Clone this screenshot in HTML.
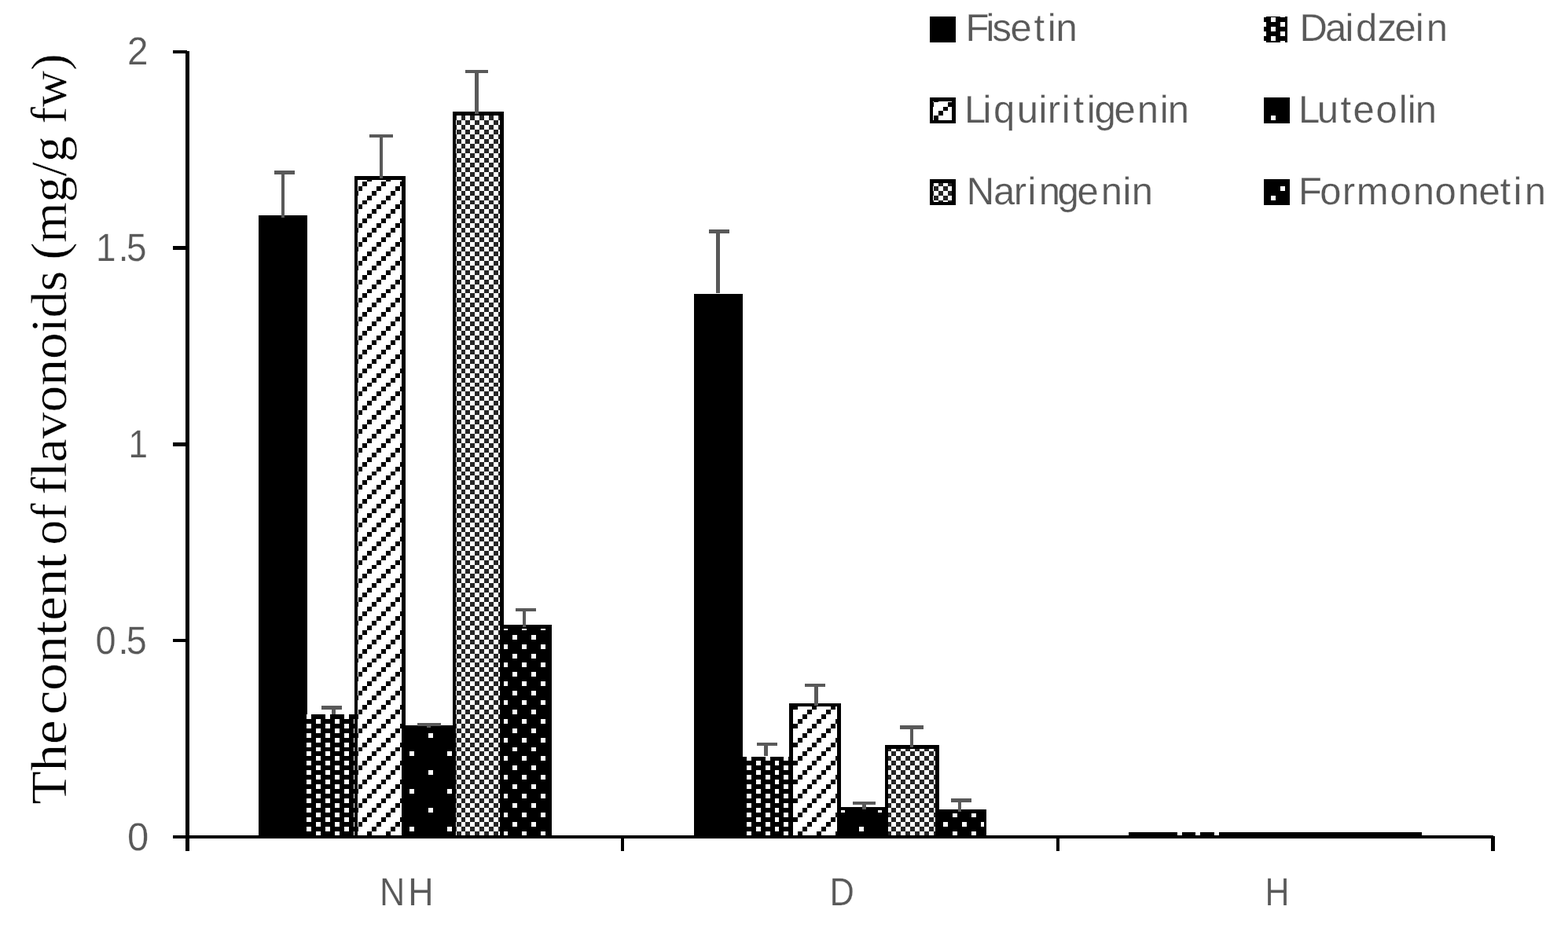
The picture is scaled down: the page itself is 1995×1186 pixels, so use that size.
<!DOCTYPE html>
<html lang="en"><head><meta charset="utf-8"><title>The content of flavonoids (mg/g fw)</title>
<style>html,body{margin:0;padding:0;background:#fff;}body{width:1995px;height:1186px;overflow:hidden;}svg{display:block;}.s{font-family:"Liberation Sans",sans-serif;font-size:49px;fill:#595959;stroke:#fff;stroke-width:0.25px;stroke-linejoin:round;}.d{font-size:49.8px;}.t{font-family:"Liberation Serif",serif;font-size:64.5px;fill:#000;stroke:#fff;stroke-width:0.4px;stroke-linejoin:round;}</style>
</head><body>
<svg width="1995" height="1186" viewBox="0 0 1995 1186" shape-rendering="crispEdges">
<rect width="1995" height="1186" fill="#fff"/>
<rect x="329" y="274" width="62" height="789" fill="#000"/>
<rect x="390" y="909" width="62" height="154" fill="#000"/>
<path fill="#fff" d="M390 909h6v6h-6zM414 909h6v6h-6zM438 909h6v6h-6zM402 915h6v6h-6zM426 915h6v6h-6zM450 915h2v6h-2zM390 921h6v6h-6zM414 921h6v6h-6zM438 921h6v6h-6zM402 927h6v6h-6zM426 927h6v6h-6zM450 927h2v6h-2zM390 933h6v6h-6zM414 933h6v6h-6zM438 933h6v6h-6zM402 939h6v6h-6zM426 939h6v6h-6zM450 939h2v6h-2zM390 945h6v6h-6zM414 945h6v6h-6zM438 945h6v6h-6zM402 951h6v5h-6zM426 951h6v5h-6zM450 951h2v5h-2zM390 956h6v6h-6zM414 956h6v6h-6zM438 956h6v6h-6zM402 962h6v6h-6zM426 962h6v6h-6zM450 962h2v6h-2zM390 968h6v6h-6zM414 968h6v6h-6zM438 968h6v6h-6zM402 974h6v6h-6zM426 974h6v6h-6zM450 974h2v6h-2zM390 980h6v6h-6zM414 980h6v6h-6zM438 980h6v6h-6zM402 986h6v6h-6zM426 986h6v6h-6zM450 986h2v6h-2zM390 992h6v6h-6zM414 992h6v6h-6zM438 992h6v6h-6zM402 998h6v6h-6zM426 998h6v6h-6zM450 998h2v6h-2zM390 1004h6v6h-6zM414 1004h6v6h-6zM438 1004h6v6h-6zM402 1010h6v6h-6zM426 1010h6v6h-6zM450 1010h2v6h-2zM390 1016h6v6h-6zM414 1016h6v6h-6zM438 1016h6v6h-6zM402 1022h6v6h-6zM426 1022h6v6h-6zM450 1022h2v6h-2zM390 1028h6v6h-6zM414 1028h6v6h-6zM438 1028h6v6h-6zM402 1034h6v6h-6zM426 1034h6v6h-6zM450 1034h2v6h-2zM390 1040h6v6h-6zM414 1040h6v6h-6zM438 1040h6v6h-6zM402 1046h6v6h-6zM426 1046h6v6h-6zM450 1046h2v6h-2zM390 1052h6v6h-6zM414 1052h6v6h-6zM438 1052h6v6h-6zM402 1058h6v5h-6zM426 1058h6v5h-6zM450 1058h2v5h-2z"/>
<rect x="516" y="923" width="64" height="140" fill="#000"/>
<path fill="#fff" d="M545 933h6v6h-6zM521 956h6v6h-6zM569 956h6v6h-6zM545 980h6v6h-6zM521 1004h6v6h-6zM569 1004h6v6h-6zM545 1028h6v6h-6zM521 1052h6v6h-6zM569 1052h6v6h-6z"/>
<rect x="641" y="795" width="61" height="268" fill="#000"/>
<path fill="#fff" d="M641 800h5v2h-5zM664 800h6v2h-6zM688 800h6v2h-6zM652 808h6v6h-6zM676 808h6v6h-6zM641 820h5v6h-5zM664 820h6v6h-6zM688 820h6v6h-6zM652 832h6v6h-6zM676 832h6v6h-6zM641 843h5v6h-5zM664 843h6v6h-6zM688 843h6v6h-6zM652 855h6v6h-6zM676 855h6v6h-6zM641 867h5v6h-5zM664 867h6v6h-6zM688 867h6v6h-6zM652 879h6v6h-6zM676 879h6v6h-6zM641 891h5v6h-5zM664 891h6v6h-6zM688 891h6v6h-6zM652 903h6v6h-6zM676 903h6v6h-6zM641 915h5v6h-5zM664 915h6v6h-6zM688 915h6v6h-6zM652 927h6v6h-6zM676 927h6v6h-6zM641 939h5v6h-5zM664 939h6v6h-6zM688 939h6v6h-6zM652 951h6v5h-6zM676 951h6v5h-6zM641 962h5v6h-5zM664 962h6v6h-6zM688 962h6v6h-6zM652 974h6v6h-6zM676 974h6v6h-6zM641 986h5v6h-5zM664 986h6v6h-6zM688 986h6v6h-6zM652 998h6v6h-6zM676 998h6v6h-6zM641 1010h5v6h-5zM664 1010h6v6h-6zM688 1010h6v6h-6zM652 1022h6v6h-6zM676 1022h6v6h-6zM641 1034h5v6h-5zM664 1034h6v6h-6zM688 1034h6v6h-6zM652 1046h6v6h-6zM676 1046h6v6h-6zM641 1058h5v5h-5zM664 1058h6v5h-6zM688 1058h6v5h-6z"/>
<rect x="451" y="224" width="65" height="839" fill="#000"/>
<rect x="455" y="229" width="56" height="834" fill="#fff"/>
<path fill="#000" d="M467 229h6v2h-6zM491 229h6v2h-6zM461 231h6v6h-6zM485 231h6v6h-6zM509 231h2v6h-2zM456 237h5v6h-5zM479 237h6v6h-6zM503 237h6v6h-6zM455 243h1v6h-1zM473 243h6v6h-6zM497 243h6v6h-6zM467 249h6v6h-6zM491 249h6v6h-6zM461 255h6v5h-6zM485 255h6v5h-6zM509 255h2v5h-2zM456 260h5v6h-5zM479 260h6v6h-6zM503 260h6v6h-6zM455 266h1v6h-1zM473 266h6v6h-6zM497 266h6v6h-6zM467 272h6v6h-6zM491 272h6v6h-6zM461 278h6v6h-6zM485 278h6v6h-6zM509 278h2v6h-2zM456 284h5v6h-5zM479 284h6v6h-6zM503 284h6v6h-6zM455 290h1v6h-1zM473 290h6v6h-6zM497 290h6v6h-6zM467 296h6v6h-6zM491 296h6v6h-6zM461 302h6v6h-6zM485 302h6v6h-6zM509 302h2v6h-2zM456 308h5v6h-5zM479 308h6v6h-6zM503 308h6v6h-6zM455 314h1v6h-1zM473 314h6v6h-6zM497 314h6v6h-6zM467 320h6v6h-6zM491 320h6v6h-6zM461 326h6v6h-6zM485 326h6v6h-6zM509 326h2v6h-2zM456 332h5v6h-5zM479 332h6v6h-6zM503 332h6v6h-6zM455 338h1v6h-1zM473 338h6v6h-6zM497 338h6v6h-6zM467 344h6v6h-6zM491 344h6v6h-6zM461 350h6v6h-6zM485 350h6v6h-6zM509 350h2v6h-2zM456 356h5v6h-5zM479 356h6v6h-6zM503 356h6v6h-6zM455 362h1v6h-1zM473 362h6v6h-6zM497 362h6v6h-6zM467 368h6v5h-6zM491 368h6v5h-6zM461 373h6v6h-6zM485 373h6v6h-6zM509 373h2v6h-2zM456 379h5v6h-5zM479 379h6v6h-6zM503 379h6v6h-6zM455 385h1v6h-1zM473 385h6v6h-6zM497 385h6v6h-6zM467 391h6v6h-6zM491 391h6v6h-6zM461 397h6v6h-6zM485 397h6v6h-6zM509 397h2v6h-2zM456 403h5v6h-5zM479 403h6v6h-6zM503 403h6v6h-6zM455 409h1v6h-1zM473 409h6v6h-6zM497 409h6v6h-6zM467 415h6v6h-6zM491 415h6v6h-6zM461 421h6v6h-6zM485 421h6v6h-6zM509 421h2v6h-2zM456 427h5v6h-5zM479 427h6v6h-6zM503 427h6v6h-6zM455 433h1v6h-1zM473 433h6v6h-6zM497 433h6v6h-6zM467 439h6v6h-6zM491 439h6v6h-6zM461 445h6v6h-6zM485 445h6v6h-6zM509 445h2v6h-2zM456 451h5v6h-5zM479 451h6v6h-6zM503 451h6v6h-6zM455 457h1v6h-1zM473 457h6v6h-6zM497 457h6v6h-6zM467 463h6v6h-6zM491 463h6v6h-6zM461 469h6v6h-6zM485 469h6v6h-6zM509 469h2v6h-2zM456 475h5v6h-5zM479 475h6v6h-6zM503 475h6v6h-6zM455 481h1v6h-1zM473 481h6v6h-6zM497 481h6v6h-6zM467 487h6v5h-6zM491 487h6v5h-6zM461 492h6v6h-6zM485 492h6v6h-6zM509 492h2v6h-2zM456 498h5v6h-5zM479 498h6v6h-6zM503 498h6v6h-6zM455 504h1v6h-1zM473 504h6v6h-6zM497 504h6v6h-6zM467 510h6v6h-6zM491 510h6v6h-6zM461 516h6v6h-6zM485 516h6v6h-6zM509 516h2v6h-2zM456 522h5v6h-5zM479 522h6v6h-6zM503 522h6v6h-6zM455 528h1v6h-1zM473 528h6v6h-6zM497 528h6v6h-6zM467 534h6v6h-6zM491 534h6v6h-6zM461 540h6v6h-6zM485 540h6v6h-6zM509 540h2v6h-2zM456 546h5v6h-5zM479 546h6v6h-6zM503 546h6v6h-6zM455 552h1v6h-1zM473 552h6v6h-6zM497 552h6v6h-6zM467 558h6v6h-6zM491 558h6v6h-6zM461 564h6v6h-6zM485 564h6v6h-6zM509 564h2v6h-2zM456 570h5v6h-5zM479 570h6v6h-6zM503 570h6v6h-6zM455 576h1v6h-1zM473 576h6v6h-6zM497 576h6v6h-6zM467 582h6v6h-6zM491 582h6v6h-6zM461 588h6v6h-6zM485 588h6v6h-6zM509 588h2v6h-2zM456 594h5v6h-5zM479 594h6v6h-6zM503 594h6v6h-6zM455 600h1v5h-1zM473 600h6v5h-6zM497 600h6v5h-6zM467 605h6v6h-6zM491 605h6v6h-6zM461 611h6v6h-6zM485 611h6v6h-6zM509 611h2v6h-2zM456 617h5v6h-5zM479 617h6v6h-6zM503 617h6v6h-6zM455 623h1v6h-1zM473 623h6v6h-6zM497 623h6v6h-6zM467 629h6v6h-6zM491 629h6v6h-6zM461 635h6v6h-6zM485 635h6v6h-6zM509 635h2v6h-2zM456 641h5v6h-5zM479 641h6v6h-6zM503 641h6v6h-6zM455 647h1v6h-1zM473 647h6v6h-6zM497 647h6v6h-6zM467 653h6v6h-6zM491 653h6v6h-6zM461 659h6v6h-6zM485 659h6v6h-6zM509 659h2v6h-2zM456 665h5v6h-5zM479 665h6v6h-6zM503 665h6v6h-6zM455 671h1v6h-1zM473 671h6v6h-6zM497 671h6v6h-6zM467 677h6v6h-6zM491 677h6v6h-6zM461 683h6v6h-6zM485 683h6v6h-6zM509 683h2v6h-2zM456 689h5v6h-5zM479 689h6v6h-6zM503 689h6v6h-6zM455 695h1v6h-1zM473 695h6v6h-6zM497 695h6v6h-6zM467 701h6v6h-6zM491 701h6v6h-6zM461 707h6v6h-6zM485 707h6v6h-6zM509 707h2v6h-2zM456 713h5v6h-5zM479 713h6v6h-6zM503 713h6v6h-6zM455 719h1v5h-1zM473 719h6v5h-6zM497 719h6v5h-6zM467 724h6v6h-6zM491 724h6v6h-6zM461 730h6v6h-6zM485 730h6v6h-6zM509 730h2v6h-2zM456 736h5v6h-5zM479 736h6v6h-6zM503 736h6v6h-6zM455 742h1v6h-1zM473 742h6v6h-6zM497 742h6v6h-6zM467 748h6v6h-6zM491 748h6v6h-6zM461 754h6v6h-6zM485 754h6v6h-6zM509 754h2v6h-2zM456 760h5v6h-5zM479 760h6v6h-6zM503 760h6v6h-6zM455 766h1v6h-1zM473 766h6v6h-6zM497 766h6v6h-6zM467 772h6v6h-6zM491 772h6v6h-6zM461 778h6v6h-6zM485 778h6v6h-6zM509 778h2v6h-2zM456 784h5v6h-5zM479 784h6v6h-6zM503 784h6v6h-6zM455 790h1v6h-1zM473 790h6v6h-6zM497 790h6v6h-6zM467 796h6v6h-6zM491 796h6v6h-6zM461 802h6v6h-6zM485 802h6v6h-6zM509 802h2v6h-2zM456 808h5v6h-5zM479 808h6v6h-6zM503 808h6v6h-6zM455 814h1v6h-1zM473 814h6v6h-6zM497 814h6v6h-6zM467 820h6v6h-6zM491 820h6v6h-6zM461 826h6v6h-6zM485 826h6v6h-6zM509 826h2v6h-2zM456 832h5v6h-5zM479 832h6v6h-6zM503 832h6v6h-6zM455 838h1v5h-1zM473 838h6v5h-6zM497 838h6v5h-6zM467 843h6v6h-6zM491 843h6v6h-6zM461 849h6v6h-6zM485 849h6v6h-6zM509 849h2v6h-2zM456 855h5v6h-5zM479 855h6v6h-6zM503 855h6v6h-6zM455 861h1v6h-1zM473 861h6v6h-6zM497 861h6v6h-6zM467 867h6v6h-6zM491 867h6v6h-6zM461 873h6v6h-6zM485 873h6v6h-6zM509 873h2v6h-2zM456 879h5v6h-5zM479 879h6v6h-6zM503 879h6v6h-6zM455 885h1v6h-1zM473 885h6v6h-6zM497 885h6v6h-6zM467 891h6v6h-6zM491 891h6v6h-6zM461 897h6v6h-6zM485 897h6v6h-6zM509 897h2v6h-2zM456 903h5v6h-5zM479 903h6v6h-6zM503 903h6v6h-6zM455 909h1v6h-1zM473 909h6v6h-6zM497 909h6v6h-6zM467 915h6v6h-6zM491 915h6v6h-6zM461 921h6v6h-6zM485 921h6v6h-6zM509 921h2v6h-2zM456 927h5v6h-5zM479 927h6v6h-6zM503 927h6v6h-6zM455 933h1v6h-1zM473 933h6v6h-6zM497 933h6v6h-6zM467 939h6v6h-6zM491 939h6v6h-6zM461 945h6v6h-6zM485 945h6v6h-6zM509 945h2v6h-2zM456 951h5v5h-5zM479 951h6v5h-6zM503 951h6v5h-6zM455 956h1v6h-1zM473 956h6v6h-6zM497 956h6v6h-6zM467 962h6v6h-6zM491 962h6v6h-6zM461 968h6v6h-6zM485 968h6v6h-6zM509 968h2v6h-2zM456 974h5v6h-5zM479 974h6v6h-6zM503 974h6v6h-6zM455 980h1v6h-1zM473 980h6v6h-6zM497 980h6v6h-6zM467 986h6v6h-6zM491 986h6v6h-6zM461 992h6v6h-6zM485 992h6v6h-6zM509 992h2v6h-2zM456 998h5v6h-5zM479 998h6v6h-6zM503 998h6v6h-6zM455 1004h1v6h-1zM473 1004h6v6h-6zM497 1004h6v6h-6zM467 1010h6v6h-6zM491 1010h6v6h-6zM461 1016h6v6h-6zM485 1016h6v6h-6zM509 1016h2v6h-2zM456 1022h5v6h-5zM479 1022h6v6h-6zM503 1022h6v6h-6zM455 1028h1v6h-1zM473 1028h6v6h-6zM497 1028h6v6h-6zM467 1034h6v6h-6zM491 1034h6v6h-6zM461 1040h6v6h-6zM485 1040h6v6h-6zM509 1040h2v6h-2zM456 1046h5v6h-5zM479 1046h6v6h-6zM503 1046h6v6h-6zM455 1052h1v6h-1zM473 1052h6v6h-6zM497 1052h6v6h-6zM467 1058h6v5h-6zM491 1058h6v5h-6z"/>
<rect x="576" y="142" width="65" height="921" fill="#000"/>
<rect x="580" y="147" width="56" height="916" fill="#fff"/>
<path fill="#262626" d="M580 147h1v6h-1zM587 147h5v6h-5zM598 147h6v6h-6zM610 147h6v6h-6zM622 147h6v6h-6zM634 147h2v6h-2zM581 153h6v6h-6zM592 153h6v6h-6zM604 153h6v6h-6zM616 153h6v6h-6zM628 153h6v6h-6zM580 159h1v6h-1zM587 159h5v6h-5zM598 159h6v6h-6zM610 159h6v6h-6zM622 159h6v6h-6zM634 159h2v6h-2zM581 165h6v6h-6zM592 165h6v6h-6zM604 165h6v6h-6zM616 165h6v6h-6zM628 165h6v6h-6zM580 171h1v6h-1zM587 171h5v6h-5zM598 171h6v6h-6zM610 171h6v6h-6zM622 171h6v6h-6zM634 171h2v6h-2zM581 177h6v6h-6zM592 177h6v6h-6zM604 177h6v6h-6zM616 177h6v6h-6zM628 177h6v6h-6zM580 183h1v6h-1zM587 183h5v6h-5zM598 183h6v6h-6zM610 183h6v6h-6zM622 183h6v6h-6zM634 183h2v6h-2zM581 189h6v6h-6zM592 189h6v6h-6zM604 189h6v6h-6zM616 189h6v6h-6zM628 189h6v6h-6zM580 195h1v6h-1zM587 195h5v6h-5zM598 195h6v6h-6zM610 195h6v6h-6zM622 195h6v6h-6zM634 195h2v6h-2zM581 201h6v6h-6zM592 201h6v6h-6zM604 201h6v6h-6zM616 201h6v6h-6zM628 201h6v6h-6zM580 207h1v6h-1zM587 207h5v6h-5zM598 207h6v6h-6zM610 207h6v6h-6zM622 207h6v6h-6zM634 207h2v6h-2zM581 213h6v6h-6zM592 213h6v6h-6zM604 213h6v6h-6zM616 213h6v6h-6zM628 213h6v6h-6zM580 219h1v6h-1zM587 219h5v6h-5zM598 219h6v6h-6zM610 219h6v6h-6zM622 219h6v6h-6zM634 219h2v6h-2zM581 225h6v6h-6zM592 225h6v6h-6zM604 225h6v6h-6zM616 225h6v6h-6zM628 225h6v6h-6zM580 231h1v6h-1zM587 231h5v6h-5zM598 231h6v6h-6zM610 231h6v6h-6zM622 231h6v6h-6zM634 231h2v6h-2zM581 237h6v6h-6zM592 237h6v6h-6zM604 237h6v6h-6zM616 237h6v6h-6zM628 237h6v6h-6zM580 243h1v6h-1zM587 243h5v6h-5zM598 243h6v6h-6zM610 243h6v6h-6zM622 243h6v6h-6zM634 243h2v6h-2zM581 249h6v6h-6zM592 249h6v6h-6zM604 249h6v6h-6zM616 249h6v6h-6zM628 249h6v6h-6zM580 255h1v5h-1zM587 255h5v5h-5zM598 255h6v5h-6zM610 255h6v5h-6zM622 255h6v5h-6zM634 255h2v5h-2zM581 260h6v6h-6zM592 260h6v6h-6zM604 260h6v6h-6zM616 260h6v6h-6zM628 260h6v6h-6zM580 266h1v6h-1zM587 266h5v6h-5zM598 266h6v6h-6zM610 266h6v6h-6zM622 266h6v6h-6zM634 266h2v6h-2zM581 272h6v6h-6zM592 272h6v6h-6zM604 272h6v6h-6zM616 272h6v6h-6zM628 272h6v6h-6zM580 278h1v6h-1zM587 278h5v6h-5zM598 278h6v6h-6zM610 278h6v6h-6zM622 278h6v6h-6zM634 278h2v6h-2zM581 284h6v6h-6zM592 284h6v6h-6zM604 284h6v6h-6zM616 284h6v6h-6zM628 284h6v6h-6zM580 290h1v6h-1zM587 290h5v6h-5zM598 290h6v6h-6zM610 290h6v6h-6zM622 290h6v6h-6zM634 290h2v6h-2zM581 296h6v6h-6zM592 296h6v6h-6zM604 296h6v6h-6zM616 296h6v6h-6zM628 296h6v6h-6zM580 302h1v6h-1zM587 302h5v6h-5zM598 302h6v6h-6zM610 302h6v6h-6zM622 302h6v6h-6zM634 302h2v6h-2zM581 308h6v6h-6zM592 308h6v6h-6zM604 308h6v6h-6zM616 308h6v6h-6zM628 308h6v6h-6zM580 314h1v6h-1zM587 314h5v6h-5zM598 314h6v6h-6zM610 314h6v6h-6zM622 314h6v6h-6zM634 314h2v6h-2zM581 320h6v6h-6zM592 320h6v6h-6zM604 320h6v6h-6zM616 320h6v6h-6zM628 320h6v6h-6zM580 326h1v6h-1zM587 326h5v6h-5zM598 326h6v6h-6zM610 326h6v6h-6zM622 326h6v6h-6zM634 326h2v6h-2zM581 332h6v6h-6zM592 332h6v6h-6zM604 332h6v6h-6zM616 332h6v6h-6zM628 332h6v6h-6zM580 338h1v6h-1zM587 338h5v6h-5zM598 338h6v6h-6zM610 338h6v6h-6zM622 338h6v6h-6zM634 338h2v6h-2zM581 344h6v6h-6zM592 344h6v6h-6zM604 344h6v6h-6zM616 344h6v6h-6zM628 344h6v6h-6zM580 350h1v6h-1zM587 350h5v6h-5zM598 350h6v6h-6zM610 350h6v6h-6zM622 350h6v6h-6zM634 350h2v6h-2zM581 356h6v6h-6zM592 356h6v6h-6zM604 356h6v6h-6zM616 356h6v6h-6zM628 356h6v6h-6zM580 362h1v6h-1zM587 362h5v6h-5zM598 362h6v6h-6zM610 362h6v6h-6zM622 362h6v6h-6zM634 362h2v6h-2zM581 368h6v5h-6zM592 368h6v5h-6zM604 368h6v5h-6zM616 368h6v5h-6zM628 368h6v5h-6zM580 373h1v6h-1zM587 373h5v6h-5zM598 373h6v6h-6zM610 373h6v6h-6zM622 373h6v6h-6zM634 373h2v6h-2zM581 379h6v6h-6zM592 379h6v6h-6zM604 379h6v6h-6zM616 379h6v6h-6zM628 379h6v6h-6zM580 385h1v6h-1zM587 385h5v6h-5zM598 385h6v6h-6zM610 385h6v6h-6zM622 385h6v6h-6zM634 385h2v6h-2zM581 391h6v6h-6zM592 391h6v6h-6zM604 391h6v6h-6zM616 391h6v6h-6zM628 391h6v6h-6zM580 397h1v6h-1zM587 397h5v6h-5zM598 397h6v6h-6zM610 397h6v6h-6zM622 397h6v6h-6zM634 397h2v6h-2zM581 403h6v6h-6zM592 403h6v6h-6zM604 403h6v6h-6zM616 403h6v6h-6zM628 403h6v6h-6zM580 409h1v6h-1zM587 409h5v6h-5zM598 409h6v6h-6zM610 409h6v6h-6zM622 409h6v6h-6zM634 409h2v6h-2zM581 415h6v6h-6zM592 415h6v6h-6zM604 415h6v6h-6zM616 415h6v6h-6zM628 415h6v6h-6zM580 421h1v6h-1zM587 421h5v6h-5zM598 421h6v6h-6zM610 421h6v6h-6zM622 421h6v6h-6zM634 421h2v6h-2zM581 427h6v6h-6zM592 427h6v6h-6zM604 427h6v6h-6zM616 427h6v6h-6zM628 427h6v6h-6zM580 433h1v6h-1zM587 433h5v6h-5zM598 433h6v6h-6zM610 433h6v6h-6zM622 433h6v6h-6zM634 433h2v6h-2zM581 439h6v6h-6zM592 439h6v6h-6zM604 439h6v6h-6zM616 439h6v6h-6zM628 439h6v6h-6zM580 445h1v6h-1zM587 445h5v6h-5zM598 445h6v6h-6zM610 445h6v6h-6zM622 445h6v6h-6zM634 445h2v6h-2zM581 451h6v6h-6zM592 451h6v6h-6zM604 451h6v6h-6zM616 451h6v6h-6zM628 451h6v6h-6zM580 457h1v6h-1zM587 457h5v6h-5zM598 457h6v6h-6zM610 457h6v6h-6zM622 457h6v6h-6zM634 457h2v6h-2zM581 463h6v6h-6zM592 463h6v6h-6zM604 463h6v6h-6zM616 463h6v6h-6zM628 463h6v6h-6zM580 469h1v6h-1zM587 469h5v6h-5zM598 469h6v6h-6zM610 469h6v6h-6zM622 469h6v6h-6zM634 469h2v6h-2zM581 475h6v6h-6zM592 475h6v6h-6zM604 475h6v6h-6zM616 475h6v6h-6zM628 475h6v6h-6zM580 481h1v6h-1zM587 481h5v6h-5zM598 481h6v6h-6zM610 481h6v6h-6zM622 481h6v6h-6zM634 481h2v6h-2zM581 487h6v5h-6zM592 487h6v5h-6zM604 487h6v5h-6zM616 487h6v5h-6zM628 487h6v5h-6zM580 492h1v6h-1zM587 492h5v6h-5zM598 492h6v6h-6zM610 492h6v6h-6zM622 492h6v6h-6zM634 492h2v6h-2zM581 498h6v6h-6zM592 498h6v6h-6zM604 498h6v6h-6zM616 498h6v6h-6zM628 498h6v6h-6zM580 504h1v6h-1zM587 504h5v6h-5zM598 504h6v6h-6zM610 504h6v6h-6zM622 504h6v6h-6zM634 504h2v6h-2zM581 510h6v6h-6zM592 510h6v6h-6zM604 510h6v6h-6zM616 510h6v6h-6zM628 510h6v6h-6zM580 516h1v6h-1zM587 516h5v6h-5zM598 516h6v6h-6zM610 516h6v6h-6zM622 516h6v6h-6zM634 516h2v6h-2zM581 522h6v6h-6zM592 522h6v6h-6zM604 522h6v6h-6zM616 522h6v6h-6zM628 522h6v6h-6zM580 528h1v6h-1zM587 528h5v6h-5zM598 528h6v6h-6zM610 528h6v6h-6zM622 528h6v6h-6zM634 528h2v6h-2zM581 534h6v6h-6zM592 534h6v6h-6zM604 534h6v6h-6zM616 534h6v6h-6zM628 534h6v6h-6zM580 540h1v6h-1zM587 540h5v6h-5zM598 540h6v6h-6zM610 540h6v6h-6zM622 540h6v6h-6zM634 540h2v6h-2zM581 546h6v6h-6zM592 546h6v6h-6zM604 546h6v6h-6zM616 546h6v6h-6zM628 546h6v6h-6zM580 552h1v6h-1zM587 552h5v6h-5zM598 552h6v6h-6zM610 552h6v6h-6zM622 552h6v6h-6zM634 552h2v6h-2zM581 558h6v6h-6zM592 558h6v6h-6zM604 558h6v6h-6zM616 558h6v6h-6zM628 558h6v6h-6zM580 564h1v6h-1zM587 564h5v6h-5zM598 564h6v6h-6zM610 564h6v6h-6zM622 564h6v6h-6zM634 564h2v6h-2zM581 570h6v6h-6zM592 570h6v6h-6zM604 570h6v6h-6zM616 570h6v6h-6zM628 570h6v6h-6zM580 576h1v6h-1zM587 576h5v6h-5zM598 576h6v6h-6zM610 576h6v6h-6zM622 576h6v6h-6zM634 576h2v6h-2zM581 582h6v6h-6zM592 582h6v6h-6zM604 582h6v6h-6zM616 582h6v6h-6zM628 582h6v6h-6zM580 588h1v6h-1zM587 588h5v6h-5zM598 588h6v6h-6zM610 588h6v6h-6zM622 588h6v6h-6zM634 588h2v6h-2zM581 594h6v6h-6zM592 594h6v6h-6zM604 594h6v6h-6zM616 594h6v6h-6zM628 594h6v6h-6zM580 600h1v5h-1zM587 600h5v5h-5zM598 600h6v5h-6zM610 600h6v5h-6zM622 600h6v5h-6zM634 600h2v5h-2zM581 605h6v6h-6zM592 605h6v6h-6zM604 605h6v6h-6zM616 605h6v6h-6zM628 605h6v6h-6zM580 611h1v6h-1zM587 611h5v6h-5zM598 611h6v6h-6zM610 611h6v6h-6zM622 611h6v6h-6zM634 611h2v6h-2zM581 617h6v6h-6zM592 617h6v6h-6zM604 617h6v6h-6zM616 617h6v6h-6zM628 617h6v6h-6zM580 623h1v6h-1zM587 623h5v6h-5zM598 623h6v6h-6zM610 623h6v6h-6zM622 623h6v6h-6zM634 623h2v6h-2zM581 629h6v6h-6zM592 629h6v6h-6zM604 629h6v6h-6zM616 629h6v6h-6zM628 629h6v6h-6zM580 635h1v6h-1zM587 635h5v6h-5zM598 635h6v6h-6zM610 635h6v6h-6zM622 635h6v6h-6zM634 635h2v6h-2zM581 641h6v6h-6zM592 641h6v6h-6zM604 641h6v6h-6zM616 641h6v6h-6zM628 641h6v6h-6zM580 647h1v6h-1zM587 647h5v6h-5zM598 647h6v6h-6zM610 647h6v6h-6zM622 647h6v6h-6zM634 647h2v6h-2zM581 653h6v6h-6zM592 653h6v6h-6zM604 653h6v6h-6zM616 653h6v6h-6zM628 653h6v6h-6zM580 659h1v6h-1zM587 659h5v6h-5zM598 659h6v6h-6zM610 659h6v6h-6zM622 659h6v6h-6zM634 659h2v6h-2zM581 665h6v6h-6zM592 665h6v6h-6zM604 665h6v6h-6zM616 665h6v6h-6zM628 665h6v6h-6zM580 671h1v6h-1zM587 671h5v6h-5zM598 671h6v6h-6zM610 671h6v6h-6zM622 671h6v6h-6zM634 671h2v6h-2zM581 677h6v6h-6zM592 677h6v6h-6zM604 677h6v6h-6zM616 677h6v6h-6zM628 677h6v6h-6zM580 683h1v6h-1zM587 683h5v6h-5zM598 683h6v6h-6zM610 683h6v6h-6zM622 683h6v6h-6zM634 683h2v6h-2zM581 689h6v6h-6zM592 689h6v6h-6zM604 689h6v6h-6zM616 689h6v6h-6zM628 689h6v6h-6zM580 695h1v6h-1zM587 695h5v6h-5zM598 695h6v6h-6zM610 695h6v6h-6zM622 695h6v6h-6zM634 695h2v6h-2zM581 701h6v6h-6zM592 701h6v6h-6zM604 701h6v6h-6zM616 701h6v6h-6zM628 701h6v6h-6zM580 707h1v6h-1zM587 707h5v6h-5zM598 707h6v6h-6zM610 707h6v6h-6zM622 707h6v6h-6zM634 707h2v6h-2zM581 713h6v6h-6zM592 713h6v6h-6zM604 713h6v6h-6zM616 713h6v6h-6zM628 713h6v6h-6zM580 719h1v5h-1zM587 719h5v5h-5zM598 719h6v5h-6zM610 719h6v5h-6zM622 719h6v5h-6zM634 719h2v5h-2zM581 724h6v6h-6zM592 724h6v6h-6zM604 724h6v6h-6zM616 724h6v6h-6zM628 724h6v6h-6zM580 730h1v6h-1zM587 730h5v6h-5zM598 730h6v6h-6zM610 730h6v6h-6zM622 730h6v6h-6zM634 730h2v6h-2zM581 736h6v6h-6zM592 736h6v6h-6zM604 736h6v6h-6zM616 736h6v6h-6zM628 736h6v6h-6zM580 742h1v6h-1zM587 742h5v6h-5zM598 742h6v6h-6zM610 742h6v6h-6zM622 742h6v6h-6zM634 742h2v6h-2zM581 748h6v6h-6zM592 748h6v6h-6zM604 748h6v6h-6zM616 748h6v6h-6zM628 748h6v6h-6zM580 754h1v6h-1zM587 754h5v6h-5zM598 754h6v6h-6zM610 754h6v6h-6zM622 754h6v6h-6zM634 754h2v6h-2zM581 760h6v6h-6zM592 760h6v6h-6zM604 760h6v6h-6zM616 760h6v6h-6zM628 760h6v6h-6zM580 766h1v6h-1zM587 766h5v6h-5zM598 766h6v6h-6zM610 766h6v6h-6zM622 766h6v6h-6zM634 766h2v6h-2zM581 772h6v6h-6zM592 772h6v6h-6zM604 772h6v6h-6zM616 772h6v6h-6zM628 772h6v6h-6zM580 778h1v6h-1zM587 778h5v6h-5zM598 778h6v6h-6zM610 778h6v6h-6zM622 778h6v6h-6zM634 778h2v6h-2zM581 784h6v6h-6zM592 784h6v6h-6zM604 784h6v6h-6zM616 784h6v6h-6zM628 784h6v6h-6zM580 790h1v6h-1zM587 790h5v6h-5zM598 790h6v6h-6zM610 790h6v6h-6zM622 790h6v6h-6zM634 790h2v6h-2zM581 796h6v6h-6zM592 796h6v6h-6zM604 796h6v6h-6zM616 796h6v6h-6zM628 796h6v6h-6zM580 802h1v6h-1zM587 802h5v6h-5zM598 802h6v6h-6zM610 802h6v6h-6zM622 802h6v6h-6zM634 802h2v6h-2zM581 808h6v6h-6zM592 808h6v6h-6zM604 808h6v6h-6zM616 808h6v6h-6zM628 808h6v6h-6zM580 814h1v6h-1zM587 814h5v6h-5zM598 814h6v6h-6zM610 814h6v6h-6zM622 814h6v6h-6zM634 814h2v6h-2zM581 820h6v6h-6zM592 820h6v6h-6zM604 820h6v6h-6zM616 820h6v6h-6zM628 820h6v6h-6zM580 826h1v6h-1zM587 826h5v6h-5zM598 826h6v6h-6zM610 826h6v6h-6zM622 826h6v6h-6zM634 826h2v6h-2zM581 832h6v6h-6zM592 832h6v6h-6zM604 832h6v6h-6zM616 832h6v6h-6zM628 832h6v6h-6zM580 838h1v5h-1zM587 838h5v5h-5zM598 838h6v5h-6zM610 838h6v5h-6zM622 838h6v5h-6zM634 838h2v5h-2zM581 843h6v6h-6zM592 843h6v6h-6zM604 843h6v6h-6zM616 843h6v6h-6zM628 843h6v6h-6zM580 849h1v6h-1zM587 849h5v6h-5zM598 849h6v6h-6zM610 849h6v6h-6zM622 849h6v6h-6zM634 849h2v6h-2zM581 855h6v6h-6zM592 855h6v6h-6zM604 855h6v6h-6zM616 855h6v6h-6zM628 855h6v6h-6zM580 861h1v6h-1zM587 861h5v6h-5zM598 861h6v6h-6zM610 861h6v6h-6zM622 861h6v6h-6zM634 861h2v6h-2zM581 867h6v6h-6zM592 867h6v6h-6zM604 867h6v6h-6zM616 867h6v6h-6zM628 867h6v6h-6zM580 873h1v6h-1zM587 873h5v6h-5zM598 873h6v6h-6zM610 873h6v6h-6zM622 873h6v6h-6zM634 873h2v6h-2zM581 879h6v6h-6zM592 879h6v6h-6zM604 879h6v6h-6zM616 879h6v6h-6zM628 879h6v6h-6zM580 885h1v6h-1zM587 885h5v6h-5zM598 885h6v6h-6zM610 885h6v6h-6zM622 885h6v6h-6zM634 885h2v6h-2zM581 891h6v6h-6zM592 891h6v6h-6zM604 891h6v6h-6zM616 891h6v6h-6zM628 891h6v6h-6zM580 897h1v6h-1zM587 897h5v6h-5zM598 897h6v6h-6zM610 897h6v6h-6zM622 897h6v6h-6zM634 897h2v6h-2zM581 903h6v6h-6zM592 903h6v6h-6zM604 903h6v6h-6zM616 903h6v6h-6zM628 903h6v6h-6zM580 909h1v6h-1zM587 909h5v6h-5zM598 909h6v6h-6zM610 909h6v6h-6zM622 909h6v6h-6zM634 909h2v6h-2zM581 915h6v6h-6zM592 915h6v6h-6zM604 915h6v6h-6zM616 915h6v6h-6zM628 915h6v6h-6zM580 921h1v6h-1zM587 921h5v6h-5zM598 921h6v6h-6zM610 921h6v6h-6zM622 921h6v6h-6zM634 921h2v6h-2zM581 927h6v6h-6zM592 927h6v6h-6zM604 927h6v6h-6zM616 927h6v6h-6zM628 927h6v6h-6zM580 933h1v6h-1zM587 933h5v6h-5zM598 933h6v6h-6zM610 933h6v6h-6zM622 933h6v6h-6zM634 933h2v6h-2zM581 939h6v6h-6zM592 939h6v6h-6zM604 939h6v6h-6zM616 939h6v6h-6zM628 939h6v6h-6zM580 945h1v6h-1zM587 945h5v6h-5zM598 945h6v6h-6zM610 945h6v6h-6zM622 945h6v6h-6zM634 945h2v6h-2zM581 951h6v5h-6zM592 951h6v5h-6zM604 951h6v5h-6zM616 951h6v5h-6zM628 951h6v5h-6zM580 956h1v6h-1zM587 956h5v6h-5zM598 956h6v6h-6zM610 956h6v6h-6zM622 956h6v6h-6zM634 956h2v6h-2zM581 962h6v6h-6zM592 962h6v6h-6zM604 962h6v6h-6zM616 962h6v6h-6zM628 962h6v6h-6zM580 968h1v6h-1zM587 968h5v6h-5zM598 968h6v6h-6zM610 968h6v6h-6zM622 968h6v6h-6zM634 968h2v6h-2zM581 974h6v6h-6zM592 974h6v6h-6zM604 974h6v6h-6zM616 974h6v6h-6zM628 974h6v6h-6zM580 980h1v6h-1zM587 980h5v6h-5zM598 980h6v6h-6zM610 980h6v6h-6zM622 980h6v6h-6zM634 980h2v6h-2zM581 986h6v6h-6zM592 986h6v6h-6zM604 986h6v6h-6zM616 986h6v6h-6zM628 986h6v6h-6zM580 992h1v6h-1zM587 992h5v6h-5zM598 992h6v6h-6zM610 992h6v6h-6zM622 992h6v6h-6zM634 992h2v6h-2zM581 998h6v6h-6zM592 998h6v6h-6zM604 998h6v6h-6zM616 998h6v6h-6zM628 998h6v6h-6zM580 1004h1v6h-1zM587 1004h5v6h-5zM598 1004h6v6h-6zM610 1004h6v6h-6zM622 1004h6v6h-6zM634 1004h2v6h-2zM581 1010h6v6h-6zM592 1010h6v6h-6zM604 1010h6v6h-6zM616 1010h6v6h-6zM628 1010h6v6h-6zM580 1016h1v6h-1zM587 1016h5v6h-5zM598 1016h6v6h-6zM610 1016h6v6h-6zM622 1016h6v6h-6zM634 1016h2v6h-2zM581 1022h6v6h-6zM592 1022h6v6h-6zM604 1022h6v6h-6zM616 1022h6v6h-6zM628 1022h6v6h-6zM580 1028h1v6h-1zM587 1028h5v6h-5zM598 1028h6v6h-6zM610 1028h6v6h-6zM622 1028h6v6h-6zM634 1028h2v6h-2zM581 1034h6v6h-6zM592 1034h6v6h-6zM604 1034h6v6h-6zM616 1034h6v6h-6zM628 1034h6v6h-6zM580 1040h1v6h-1zM587 1040h5v6h-5zM598 1040h6v6h-6zM610 1040h6v6h-6zM622 1040h6v6h-6zM634 1040h2v6h-2zM581 1046h6v6h-6zM592 1046h6v6h-6zM604 1046h6v6h-6zM616 1046h6v6h-6zM628 1046h6v6h-6zM580 1052h1v6h-1zM587 1052h5v6h-5zM598 1052h6v6h-6zM610 1052h6v6h-6zM622 1052h6v6h-6zM634 1052h2v6h-2zM581 1058h6v5h-6zM592 1058h6v5h-6zM604 1058h6v5h-6zM616 1058h6v5h-6zM628 1058h6v5h-6z"/>
<rect x="883" y="374" width="62" height="689" fill="#000"/>
<rect x="945" y="963" width="61" height="100" fill="#000"/>
<path fill="#fff" d="M950 963h6v5h-6zM974 963h6v5h-6zM997 963h6v5h-6zM962 968h6v6h-6zM986 968h5v6h-5zM950 974h6v6h-6zM974 974h6v6h-6zM997 974h6v6h-6zM962 980h6v6h-6zM986 980h5v6h-5zM950 986h6v6h-6zM974 986h6v6h-6zM997 986h6v6h-6zM962 992h6v6h-6zM986 992h5v6h-5zM950 998h6v6h-6zM974 998h6v6h-6zM997 998h6v6h-6zM962 1004h6v6h-6zM986 1004h5v6h-5zM950 1010h6v6h-6zM974 1010h6v6h-6zM997 1010h6v6h-6zM962 1016h6v6h-6zM986 1016h5v6h-5zM950 1022h6v6h-6zM974 1022h6v6h-6zM997 1022h6v6h-6zM962 1028h6v6h-6zM986 1028h5v6h-5zM950 1034h6v6h-6zM974 1034h6v6h-6zM997 1034h6v6h-6zM962 1040h6v6h-6zM986 1040h5v6h-5zM950 1046h6v6h-6zM974 1046h6v6h-6zM997 1046h6v6h-6zM962 1052h6v6h-6zM986 1052h5v6h-5zM950 1058h6v5h-6zM974 1058h6v5h-6zM997 1058h6v5h-6z"/>
<rect x="1070" y="1027" width="60" height="36" fill="#000"/>
<path fill="#fff" d="M1070 1031h5v3h-5zM1117 1031h5v3h-5zM1093 1052h6v6h-6z"/>
<rect x="1195" y="1030" width="60" height="33" fill="#000"/>
<path fill="#fff" d="M1212 1035h6v5h-6zM1236 1035h6v5h-6zM1200 1046h6v6h-6zM1224 1046h6v6h-6zM1248 1046h4v6h-4zM1212 1058h6v5h-6zM1236 1058h6v5h-6z"/>
<rect x="1004" y="895" width="66" height="168" fill="#000"/>
<rect x="1009" y="899" width="56" height="164" fill="#fff"/>
<path fill="#000" d="M1009 899h6v4h-6zM1033 899h6v4h-6zM1057 899h6v4h-6zM1027 903h6v6h-6zM1051 903h6v6h-6zM1021 909h6v6h-6zM1045 909h6v6h-6zM1015 915h6v6h-6zM1039 915h6v6h-6zM1063 915h2v6h-2zM1009 921h6v6h-6zM1033 921h6v6h-6zM1057 921h6v6h-6zM1027 927h6v6h-6zM1051 927h6v6h-6zM1021 933h6v6h-6zM1045 933h6v6h-6zM1015 939h6v6h-6zM1039 939h6v6h-6zM1063 939h2v6h-2zM1009 945h6v6h-6zM1033 945h6v6h-6zM1057 945h6v6h-6zM1027 951h6v5h-6zM1051 951h6v5h-6zM1021 956h6v6h-6zM1045 956h6v6h-6zM1015 962h6v6h-6zM1039 962h6v6h-6zM1063 962h2v6h-2zM1009 968h6v6h-6zM1033 968h6v6h-6zM1057 968h6v6h-6zM1027 974h6v6h-6zM1051 974h6v6h-6zM1021 980h6v6h-6zM1045 980h6v6h-6zM1015 986h6v6h-6zM1039 986h6v6h-6zM1063 986h2v6h-2zM1009 992h6v6h-6zM1033 992h6v6h-6zM1057 992h6v6h-6zM1027 998h6v6h-6zM1051 998h6v6h-6zM1021 1004h6v6h-6zM1045 1004h6v6h-6zM1015 1010h6v6h-6zM1039 1010h6v6h-6zM1063 1010h2v6h-2zM1009 1016h6v6h-6zM1033 1016h6v6h-6zM1057 1016h6v6h-6zM1027 1022h6v6h-6zM1051 1022h6v6h-6zM1021 1028h6v6h-6zM1045 1028h6v6h-6zM1015 1034h6v6h-6zM1039 1034h6v6h-6zM1063 1034h2v6h-2zM1009 1040h6v6h-6zM1033 1040h6v6h-6zM1057 1040h6v6h-6zM1027 1046h6v6h-6zM1051 1046h6v6h-6zM1021 1052h6v6h-6zM1045 1052h6v6h-6zM1015 1058h6v5h-6zM1039 1058h6v5h-6zM1063 1058h2v5h-2z"/>
<rect x="1126" y="948" width="69" height="115" fill="#000"/>
<rect x="1130" y="953" width="60" height="110" fill="#fff"/>
<path fill="#262626" d="M1130 953h4v3h-4zM1140 953h6v3h-6zM1152 953h6v3h-6zM1164 953h6v3h-6zM1176 953h6v3h-6zM1188 953h2v3h-2zM1134 956h6v6h-6zM1146 956h6v6h-6zM1158 956h6v6h-6zM1170 956h6v6h-6zM1182 956h6v6h-6zM1130 962h4v6h-4zM1140 962h6v6h-6zM1152 962h6v6h-6zM1164 962h6v6h-6zM1176 962h6v6h-6zM1188 962h2v6h-2zM1134 968h6v6h-6zM1146 968h6v6h-6zM1158 968h6v6h-6zM1170 968h6v6h-6zM1182 968h6v6h-6zM1130 974h4v6h-4zM1140 974h6v6h-6zM1152 974h6v6h-6zM1164 974h6v6h-6zM1176 974h6v6h-6zM1188 974h2v6h-2zM1134 980h6v6h-6zM1146 980h6v6h-6zM1158 980h6v6h-6zM1170 980h6v6h-6zM1182 980h6v6h-6zM1130 986h4v6h-4zM1140 986h6v6h-6zM1152 986h6v6h-6zM1164 986h6v6h-6zM1176 986h6v6h-6zM1188 986h2v6h-2zM1134 992h6v6h-6zM1146 992h6v6h-6zM1158 992h6v6h-6zM1170 992h6v6h-6zM1182 992h6v6h-6zM1130 998h4v6h-4zM1140 998h6v6h-6zM1152 998h6v6h-6zM1164 998h6v6h-6zM1176 998h6v6h-6zM1188 998h2v6h-2zM1134 1004h6v6h-6zM1146 1004h6v6h-6zM1158 1004h6v6h-6zM1170 1004h6v6h-6zM1182 1004h6v6h-6zM1130 1010h4v6h-4zM1140 1010h6v6h-6zM1152 1010h6v6h-6zM1164 1010h6v6h-6zM1176 1010h6v6h-6zM1188 1010h2v6h-2zM1134 1016h6v6h-6zM1146 1016h6v6h-6zM1158 1016h6v6h-6zM1170 1016h6v6h-6zM1182 1016h6v6h-6zM1130 1022h4v6h-4zM1140 1022h6v6h-6zM1152 1022h6v6h-6zM1164 1022h6v6h-6zM1176 1022h6v6h-6zM1188 1022h2v6h-2zM1134 1028h6v6h-6zM1146 1028h6v6h-6zM1158 1028h6v6h-6zM1170 1028h6v6h-6zM1182 1028h6v6h-6zM1130 1034h4v6h-4zM1140 1034h6v6h-6zM1152 1034h6v6h-6zM1164 1034h6v6h-6zM1176 1034h6v6h-6zM1188 1034h2v6h-2zM1134 1040h6v6h-6zM1146 1040h6v6h-6zM1158 1040h6v6h-6zM1170 1040h6v6h-6zM1182 1040h6v6h-6zM1130 1046h4v6h-4zM1140 1046h6v6h-6zM1152 1046h6v6h-6zM1164 1046h6v6h-6zM1176 1046h6v6h-6zM1188 1046h2v6h-2zM1134 1052h6v6h-6zM1146 1052h6v6h-6zM1158 1052h6v6h-6zM1170 1052h6v6h-6zM1182 1052h6v6h-6zM1130 1058h4v5h-4zM1140 1058h6v5h-6zM1152 1058h6v5h-6zM1164 1058h6v5h-6zM1176 1058h6v5h-6zM1188 1058h2v5h-2z"/>
<rect x="1436" y="1059" width="373" height="4" fill="#000"/>
<rect x="1498" y="1059" width="6" height="4" fill="#fff"/>
<rect x="1521" y="1059" width="6" height="4" fill="#fff"/>
<rect x="1545" y="1059" width="6" height="4" fill="#fff"/>
<rect x="358" y="217" width="4" height="60" fill="#595959"/>
<rect x="349" y="217" width="26" height="5" fill="#595959"/>
<rect x="422" y="898" width="5" height="11" fill="#595959"/>
<rect x="409" y="898" width="26" height="5" fill="#595959"/>
<rect x="483" y="171" width="4" height="56" fill="#595959"/>
<rect x="470" y="171" width="30" height="4" fill="#595959"/>
<rect x="543" y="920" width="5" height="6" fill="#595959"/>
<rect x="531" y="920" width="30" height="4" fill="#595959"/>
<rect x="604" y="89" width="5" height="56" fill="#595959"/>
<rect x="592" y="89" width="29" height="4" fill="#595959"/>
<rect x="665" y="774" width="4" height="24" fill="#595959"/>
<rect x="656" y="774" width="26" height="4" fill="#595959"/>
<rect x="911" y="292" width="5" height="81" fill="#595959"/>
<rect x="902" y="292" width="26" height="5" fill="#595959"/>
<rect x="972" y="945" width="5" height="17" fill="#595959"/>
<rect x="963" y="945" width="26" height="4" fill="#595959"/>
<rect x="1036" y="870" width="5" height="28" fill="#595959"/>
<rect x="1024" y="870" width="26" height="4" fill="#595959"/>
<rect x="1097" y="1020" width="5" height="10" fill="#595959"/>
<rect x="1085" y="1020" width="29" height="4" fill="#595959"/>
<rect x="1158" y="923" width="4" height="28" fill="#595959"/>
<rect x="1145" y="923" width="30" height="5" fill="#595959"/>
<rect x="1219" y="1016" width="4" height="17" fill="#595959"/>
<rect x="1210" y="1016" width="26" height="5" fill="#595959"/>
<rect x="236" y="65" width="5" height="1018" fill="#000"/>
<rect x="220" y="1063" width="1680" height="4" fill="#000"/>
<rect x="220" y="64" width="18" height="4" fill="#000"/>
<rect x="220" y="313" width="18" height="5" fill="#000"/>
<rect x="220" y="563" width="18" height="5" fill="#000"/>
<rect x="220" y="813" width="18" height="4" fill="#000"/>
<rect x="790" y="1065" width="4" height="18" fill="#000"/>
<rect x="1344" y="1065" width="4" height="18" fill="#000"/>
<rect x="1897" y="1064" width="5" height="19" fill="#000"/>
<rect x="1183" y="21" width="33" height="33" fill="#000"/>
<rect x="1183" y="124" width="33" height="33" fill="#000"/>
<rect x="1187" y="129" width="24" height="24" fill="#fff"/>
<path fill="#000" d="M1188 129h6v1h-6zM1187 130h1v6h-1zM1206 130h5v6h-5zM1200 136h6v5h-6zM1194 141h6v6h-6zM1188 147h6v6h-6z"/>
<rect x="1183" y="228" width="33" height="33" fill="#000"/>
<rect x="1187" y="233" width="24" height="24" fill="#fff"/>
<path fill="#262626" d="M1187 233h1v4h-1zM1194 233h6v4h-6zM1206 233h5v4h-5zM1188 237h6v6h-6zM1200 237h6v6h-6zM1187 243h1v6h-1zM1194 243h6v6h-6zM1206 243h5v6h-5zM1188 249h6v6h-6zM1200 249h6v6h-6zM1187 255h1v2h-1zM1194 255h6v2h-6zM1206 255h5v2h-5z"/>
<rect x="1608" y="21" width="30" height="33" fill="#000"/>
<path fill="#fff" d="M1608 21h3v1h-3zM1629 21h6v1h-6zM1617 22h6v6h-6zM1608 28h3v6h-3zM1629 28h6v6h-6zM1617 34h6v6h-6zM1608 40h3v6h-3zM1629 40h6v6h-6zM1617 46h6v6h-6zM1608 52h3v2h-3zM1629 52h6v2h-6z"/>
<rect x="1608" y="124" width="33" height="33" fill="#000"/>
<path fill="#fff" d="M1617 147h6v6h-6z"/>
<rect x="1608" y="228" width="33" height="33" fill="#000"/>
<path fill="#fff" d="M1629 237h6v6h-6zM1617 249h6v6h-6z"/>
<g shape-rendering="auto" text-rendering="geometricPrecision">
<text id="t2" class="s d" x="162.11" y="82.2" textLength="26.48" lengthAdjust="spacingAndGlyphs">2</text>
<text id="t15" class="s d" x="132.72 163.74 174.95" y="332.2" transform="scale(0.92 1)">1.5</text>
<text id="t1" class="s d" x="163.44" y="582.2" textLength="24.56" lengthAdjust="spacingAndGlyphs">1</text>
<text id="t05" class="s d" x="129.18 160.11 170.94" y="832.2" transform="scale(0.94 1)">0.5</text>
<text id="t0" class="s d" x="162.02" y="1082.2" textLength="27.27" lengthAdjust="spacingAndGlyphs">0</text>
<text id="cNH" class="s d" x="536.80 576.91" y="1152.2" transform="scale(0.9 1)">NH</text>
<text id="cD" class="s d" x="1055.38" y="1152.2" textLength="31.40" lengthAdjust="spacingAndGlyphs">D</text>
<text id="cH" class="s d" x="1609.40" y="1152.2" textLength="31.03" lengthAdjust="spacingAndGlyphs">H</text>
<text id="lFis" class="s" x="1228.55 1254.60 1262.45 1285.42 1315.45 1332.70 1343.53" y="52.2">Fisetin</text>
<text id="lLiq" class="s" x="1226.90 1250.60 1264.00 1293.70 1321.60 1332.73 1350.70 1365.40 1382.70 1392.52 1417.47 1446.63 1475.70 1485.73" y="156.2">Liquiritigenin</text>
<text id="lNar" class="s" x="1229.66 1263.90 1289.63 1307.60 1321.63 1345.52 1370.52 1400.63 1428.60 1439.63" y="260.2">Naringenin</text>
<text id="lDai" class="s" x="1653.58 1685.90 1711.60 1725.03 1752.53 1774.52 1800.70 1814.83" y="52.2">Daidzein</text>
<text id="lLut" class="s" x="1652.00 1675.80 1705.45 1721.52 1750.47 1779.68 1790.70 1800.73" y="156.2">Luteolin</text>
<text id="lFor" class="s" x="1652.10 1679.37 1707.83 1725.63 1768.47 1797.73 1825.42 1854.83 1881.47 1908.55 1925.60 1939.73" y="260.2">Formononetin</text>
<text id="title" class="t" transform="translate(83.5 1021.6) rotate(-90)" y="0"><tspan id="w0" x="-2.00" textLength="107.05" lengthAdjust="spacingAndGlyphs">The</tspan> <tspan id="w1" x="112.00" textLength="204.97" lengthAdjust="spacingAndGlyphs">content</tspan> <tspan id="w2" x="328.00" textLength="52.86" lengthAdjust="spacingAndGlyphs">of</tspan> <tspan id="w3" x="392.00" textLength="285.17" lengthAdjust="spacingAndGlyphs">flavonoids</tspan> <tspan id="w4" x="691.00" textLength="157.27" lengthAdjust="spacingAndGlyphs">(mg/g</tspan> <tspan id="w5" x="864.00" textLength="89.32" lengthAdjust="spacingAndGlyphs">fw)</tspan></text>
</g>
</svg>
</body></html>
